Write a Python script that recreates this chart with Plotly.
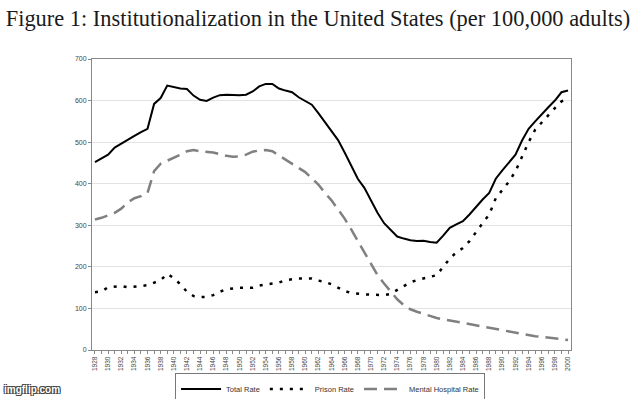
import plotly.graph_objects as go

years = list(range(1928, 2001))

total_rate = [452, 460, 470, 487, 497, 507, 515, 524, 532, 592,
              606, 636, 633, 629, 628, 612, 602, 599, 607, 613,
              614, 613, 613, 614, 622, 634, 640, 640, 629, 624,
              620, 608, 598, 590, 570, 548, 525, 505, 475, 442,
              412, 390, 360, 330, 305, 288, 273, 268, 264, 262,
              263, 260, 258, 275, 294, 302, 310, 326, 345, 362,
              378, 412, 432, 450, 470, 504, 532, 550, 568, 584,
              600, 620, 624]

prison_rate = [139, 141, 151, 153, 154, 151, 152, 154, 156, 162,
               168, 183, 173, 158, 140, 130, 127, 128, 132, 140,
               146, 148, 150, 150, 150, 155, 158, 160, 162, 168,
               170, 172, 172, 172, 167, 164, 158, 150, 142, 137,
               135, 134, 133, 132, 132, 135, 145, 155, 163, 168,
               172, 175, 180, 200, 220, 235, 245, 262, 285, 305,
               326, 365, 385, 405, 430, 465, 500, 530, 548, 566,
               582, 598, 604]

mental_rate = [314, 318, 324, 330, 340, 355, 365, 370, 378, 430,
               448, 455, 462, 470, 478, 481, 478, 476, 475, 471,
               467, 465, 466, 470, 477, 480, 481, 478, 468, 458,
               447, 438, 428, 413, 398, 378, 360, 338, 316, 290,
               263, 235, 208, 180, 160, 140, 122, 108, 98, 92,
               87, 82, 77, 74, 71, 68, 65, 62, 59, 56,
               53, 50, 47, 44, 41, 38, 35, 33, 32, 30,
               28, 26, 24]

tick_years = list(range(1928, 2001, 2))
y_ticks = [0, 100, 200, 300, 400, 500, 600, 700]

fig = go.Figure()
fig.add_trace(go.Scatter(x=years, y=total_rate, name="Total Rate", mode="lines",
                         line=dict(color="black", width=2)))
fig.add_trace(go.Scatter(x=years, y=prison_rate, name="Prison Rate", mode="lines",
                         line=dict(color="black", width=2.5, dash="3px,7px")))
fig.add_trace(go.Scatter(x=years, y=mental_rate, name="Mental Hospital Rate", mode="lines",
                         line=dict(color="#808080", width=2.5, dash="13px,7px")))

fig.update_layout(
    width=640, height=399,
    paper_bgcolor="white", plot_bgcolor="white",
    margin=dict(l=92, r=69, t=59, b=49, autoexpand=False),
    title=dict(text="Figure 1: Institutionalization in the United States (per 100,000 adults)",
               x=0.009, xanchor="left", y=0.955, yanchor="middle",
               font=dict(family="Liberation Serif", size=22.4, color="#1a1a1a")),
    font=dict(family="Liberation Sans", color="#333"),
    showlegend=True,
    legend=dict(orientation="h", x=0.497, xanchor="center", y=-0.134, yanchor="middle",
                bordercolor="#777", borderwidth=1, font=dict(size=7.5, color="#333"),
                itemwidth=40, bgcolor="white", tracegroupgap=0),
    xaxis=dict(range=[1927.55, 2000.45], tickmode="array", tickvals=tick_years,
               ticktext=[str(y) for y in tick_years], tickangle=-90,
               tickfont=dict(size=6.5, color="#444"), ticks="outside", ticklen=3,
               tickcolor="#888", showgrid=False, zeroline=False,
               showline=True, linecolor="#888", linewidth=1, mirror=True,
               minor=dict(dtick=1, ticks="outside", ticklen=3, tickcolor="#888")),
    yaxis=dict(range=[0, 700], tickvals=y_ticks, tickfont=dict(size=7, color="#444"),
               showgrid=True, gridcolor="#e2e2e2", gridwidth=1, zeroline=False,
               showline=True, linecolor="#888", linewidth=1, mirror=True,
               ticks="outside", ticklen=3, tickcolor="#888"),
)

fig.add_annotation(text="<b>imgflip.com</b>", xref="paper", yref="paper", x=-0.188, y=-0.137,
                   xanchor="left", yanchor="middle", showarrow=False,
                   font=dict(size=10, color="white",
                             shadow="1px 1px 0 #444, -1px -1px 0 #444, 1px -1px 0 #444, -1px 1px 0 #444"))

fig.write_html("out.html", config={"displayModeBar": False},
               post_script="document.body.style.margin='0';document.body.style.padding='0';")
